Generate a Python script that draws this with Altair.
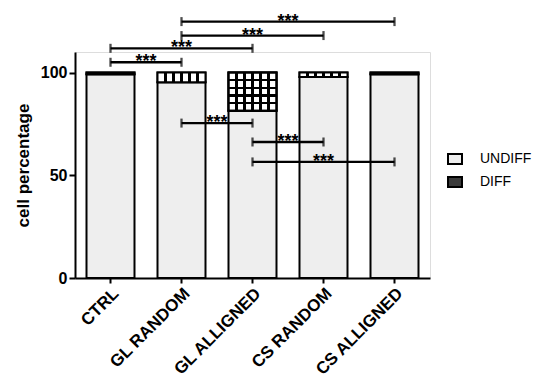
import altair as alt
import pandas as pd

# ---- data ----
groups = ["CTRL", "GL RANDOM", "GL ALLIGNED", "CS RANDOM", "CS ALLIGNED"]
undiff = [99.2, 95.3, 81.4, 97.8, 99.2]
diff = [0.8, 4.7, 18.6, 2.2, 0.8]
series = ["UNDIFF", "DIFF"]

bracket_from = [0, 0, 1, 1, 1, 2, 2]
bracket_to = [1, 2, 3, 4, 2, 3, 4]
bracket_y = [105.0, 111.8, 118.0, 124.8, 75.4, 66.2, 56.5]
bracket_label = ["***", "***", "***", "***", "***", "***", "***"]

y_ticks = [0, 50, 100]

FONT = "Liberation Sans"

# ---- tables built from the arrays ----
rows = []
for g, u, d in zip(groups, undiff, diff):
    rows.append({"group": g, "series": "UNDIFF", "y0": 0.0, "y1": u, "diff": d})
    rows.append({"group": g, "series": "DIFF", "y0": u, "y1": u + d, "diff": d})
bars_df = pd.DataFrame(rows)

br_df = pd.DataFrame({
    "from": bracket_from,
    "to": bracket_to,
    "by": bracket_y,
    "label": bracket_label,
})


def stripe_gradient(n, half, line_color, bg_color, vertical_lines=True):
    stops = [{"offset": 0.0, "color": bg_color}]
    for k in range(1, n):
        c = k / n
        stops += [
            {"offset": c - half, "color": bg_color},
            {"offset": c - half, "color": line_color},
            {"offset": c + half, "color": line_color},
            {"offset": c + half, "color": bg_color},
        ]
    stops.append({"offset": 1.0, "color": bg_color})
    if vertical_lines:
        return {"gradient": "linear", "x1": 0, "y1": 0, "x2": 1, "y2": 0, "stops": stops}
    return {"gradient": "linear", "x1": 0, "y1": 0, "x2": 0, "y2": 1, "stops": stops}


grid_cols = stripe_gradient(6, 0.022, "black", "white", True)
grid_rows = stripe_gradient(5, 0.027, "black", "rgba(255,255,255,0)", False)

y_scale = alt.Scale(domain=[0, 110], nice=False)
y_axis = alt.Axis(
    values=y_ticks, title="cell percentage", titleFontSize=17,
    titleFontWeight="bold", titleFont=FONT, titleColor="black",
    labelFontSize=16, labelFontWeight="bold", labelFont=FONT,
    labelColor="black", tickColor="black", tickWidth=2, tickSize=6,
    domainColor="black", domainWidth=2, grid=False, labelPadding=2,
    titlePadding=8,
)

x_band = alt.X(
    "group:N",
    sort=groups,
    scale=alt.Scale(paddingInner=0.324, paddingOuter=0.162),
    axis=alt.Axis(
        title=None, labelAngle=-45, labelFontSize=17, labelFontWeight="bold",
        labelFont=FONT, labelColor="black", tickColor="black", tickWidth=2,
        tickSize=5, domainColor="black", domainWidth=2, labelPadding=2,
    ),
)
y_lin = alt.Y("y0:Q", scale=y_scale, axis=y_axis)

base = alt.Chart(bars_df)

bars = base.mark_bar(stroke="black", strokeWidth=2).encode(
    x=x_band,
    y=y_lin,
    y2="y1:Q",
    fill=alt.Fill(
        "series:N",
        scale=alt.Scale(domain=series, range=["#eeeeee", "#3a3a3a"]),
        legend=alt.Legend(
            title=None, orient="none", legendX=372, legendY=99,
            symbolType="M-1,-0.7H1V0.7H-1Z", symbolSize=196,
            symbolStrokeColor="black", symbolStrokeWidth=2,
            labelFontSize=14, labelFont=FONT, labelColor="black",
            rowPadding=5, labelOffset=17, padding=0,
        ),
    ),
)

diff_cols = base.transform_filter("datum.series == 'DIFF'").mark_bar(
    stroke="black", strokeWidth=2, fill=grid_cols
).encode(x=x_band, y=y_lin, y2="y1:Q")

diff_rows = base.transform_filter(
    "datum.series == 'DIFF' && datum.diff > 10"
).mark_bar(stroke="black", strokeWidth=2, fill=grid_rows).encode(
    x=x_band, y=y_lin, y2="y1:Q"
)

bar_layer = alt.layer(bars, diff_cols, diff_rows)

x_q = alt.Scale(domain=[-0.5, 4.5], nice=False, zero=False)
y_br = alt.Y("by:Q", scale=y_scale, axis=y_axis)
br_base = alt.Chart(br_df)

rules = br_base.mark_rule(color="black", strokeWidth=2.3).encode(
    x=alt.X("from:Q", scale=x_q, axis=None),
    x2="to:Q",
    y=y_br,
)

caps = br_base.transform_fold(["from", "to"], as_=["end", "xpos"]).mark_tick(
    orient="vertical", size=9, thickness=2.3, color="black"
).encode(
    x=alt.X("xpos:Q", scale=x_q, axis=None),
    y=y_br,
)

stars = br_base.transform_calculate(mid="(datum.from + datum.to) / 2").mark_text(
    fontSize=18, fontWeight="bold", font=FONT, color="black",
    baseline="alphabetic", align="center", dy=5,
).encode(
    x=alt.X("mid:Q", scale=x_q, axis=None),
    y=y_br,
    text="label:N",
)

br_layer = alt.layer(rules, caps, stars)

chart = (
    alt.layer(bar_layer, br_layer)
    .resolve_scale(x="independent")
    .properties(
        width=355,
        height=226,
        padding={"left": 67, "top": 44, "right": 102, "bottom": 101},
        autosize=alt.AutoSizeParams(type="none"),
    )
    .configure_view(strokeWidth=0, stroke="transparent")
    .configure(font=FONT, background="white")
)

chart.save("out.html", embed_options={"renderer": "svg", "actions": False})
